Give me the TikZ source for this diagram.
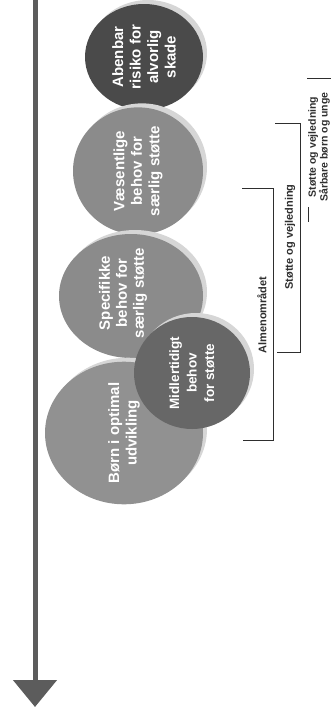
\documentclass[tikz,border=0pt]{standalone}
\usepackage{fontspec}
\setmainfont{Liberation Sans}
\usetikzlibrary{shapes.geometric,arrows.meta}
\definecolor{moerk}{HTML}{4A4A4A}
\definecolor{mellem}{HTML}{676767}
\definecolor{lys}{HTML}{8B8B8B}
\definecolor{skygge}{HTML}{D6D6D6}
\definecolor{pil}{HTML}{5C5C5C}
\definecolor{streg}{HTML}{2E2E2E}
\begin{document}
\begin{tikzpicture}[x=1pt,y=-1pt,
  fase/.style={ellipse,inner sep=0pt,text=white,align=center,rotate=90,
    font=\bfseries\fontsize{15}{17.5}\selectfont,
    preaction={fill=skygge,transform canvas={xshift=4pt,yshift=4pt}}},
  fasetekst/.style={inner sep=0pt,text=white,align=center,rotate=90,
    font=\bfseries\fontsize{15}{17}\selectfont},
  klamme/.style={draw=streg,line width=0.9pt},
  etiket/.style={rotate=90,align=center,text=streg,
    font=\bfseries\fontsize{11}{10.5}\selectfont}]
\useasboundingbox (0,0) rectangle (331,718);

% tidslinje
\coordinate (start) at (35,-5);
\coordinate (slut) at (35,707);
\draw[pil,line width=5pt,-{Triangle[length=27pt,width=43pt]}] (start) -- (slut);

% cirkler
\node[fase,fill=moerk,minimum width=106,minimum height=118] (abenbar) at (144,57) {Abenbar\\risiko for\\alvorlig\\skade};
\node[fase,fill=lys,minimum width=118,minimum height=130] (vaesentlige) at (138,171) {Væsentlige\\behov for\\særlig støtte};
\node[fase,fill=lys,minimum width=124,minimum height=144] (specifikke) at (131,296) {};
\node[fasetekst] (specifikketekst) at (123,293) {Specifikke\\behov for\\særlig støtte};
\node[fase,fill=lys!95!white,minimum width=140,minimum height=158] (boern) at (124,433) {Børn i optimal\\udvikling};
\node[fase,fill=mellem,minimum width=112,minimum height=116,font=\bfseries\fontsize{13.5}{17.5}\selectfont] (midlertidigt) at (192,373) {Midlertidigt\\behov\\for støtte};

% klammer
\draw[klamme] (242,188) -- (273,188) -- (273,440) -- (243,440);
\node[etiket] (almen) at (262,315) {Almenområdet};
\draw[klamme] (275,123) -- (300,123) -- (300,352) -- (277,352);
\node[etiket] (vejledning) at (290,237) {Støtte og vejledning};
\draw[klamme] (307,78) -- (335,78);
\draw[klamme] (308,207) -- (308,222);
\node[etiket,font=\bfseries\fontsize{10.5}{10}\selectfont] (saarbare) at (319,147) {Støtte og vejledning\\Sårbare børn og unge};
\end{tikzpicture}
\end{document}
